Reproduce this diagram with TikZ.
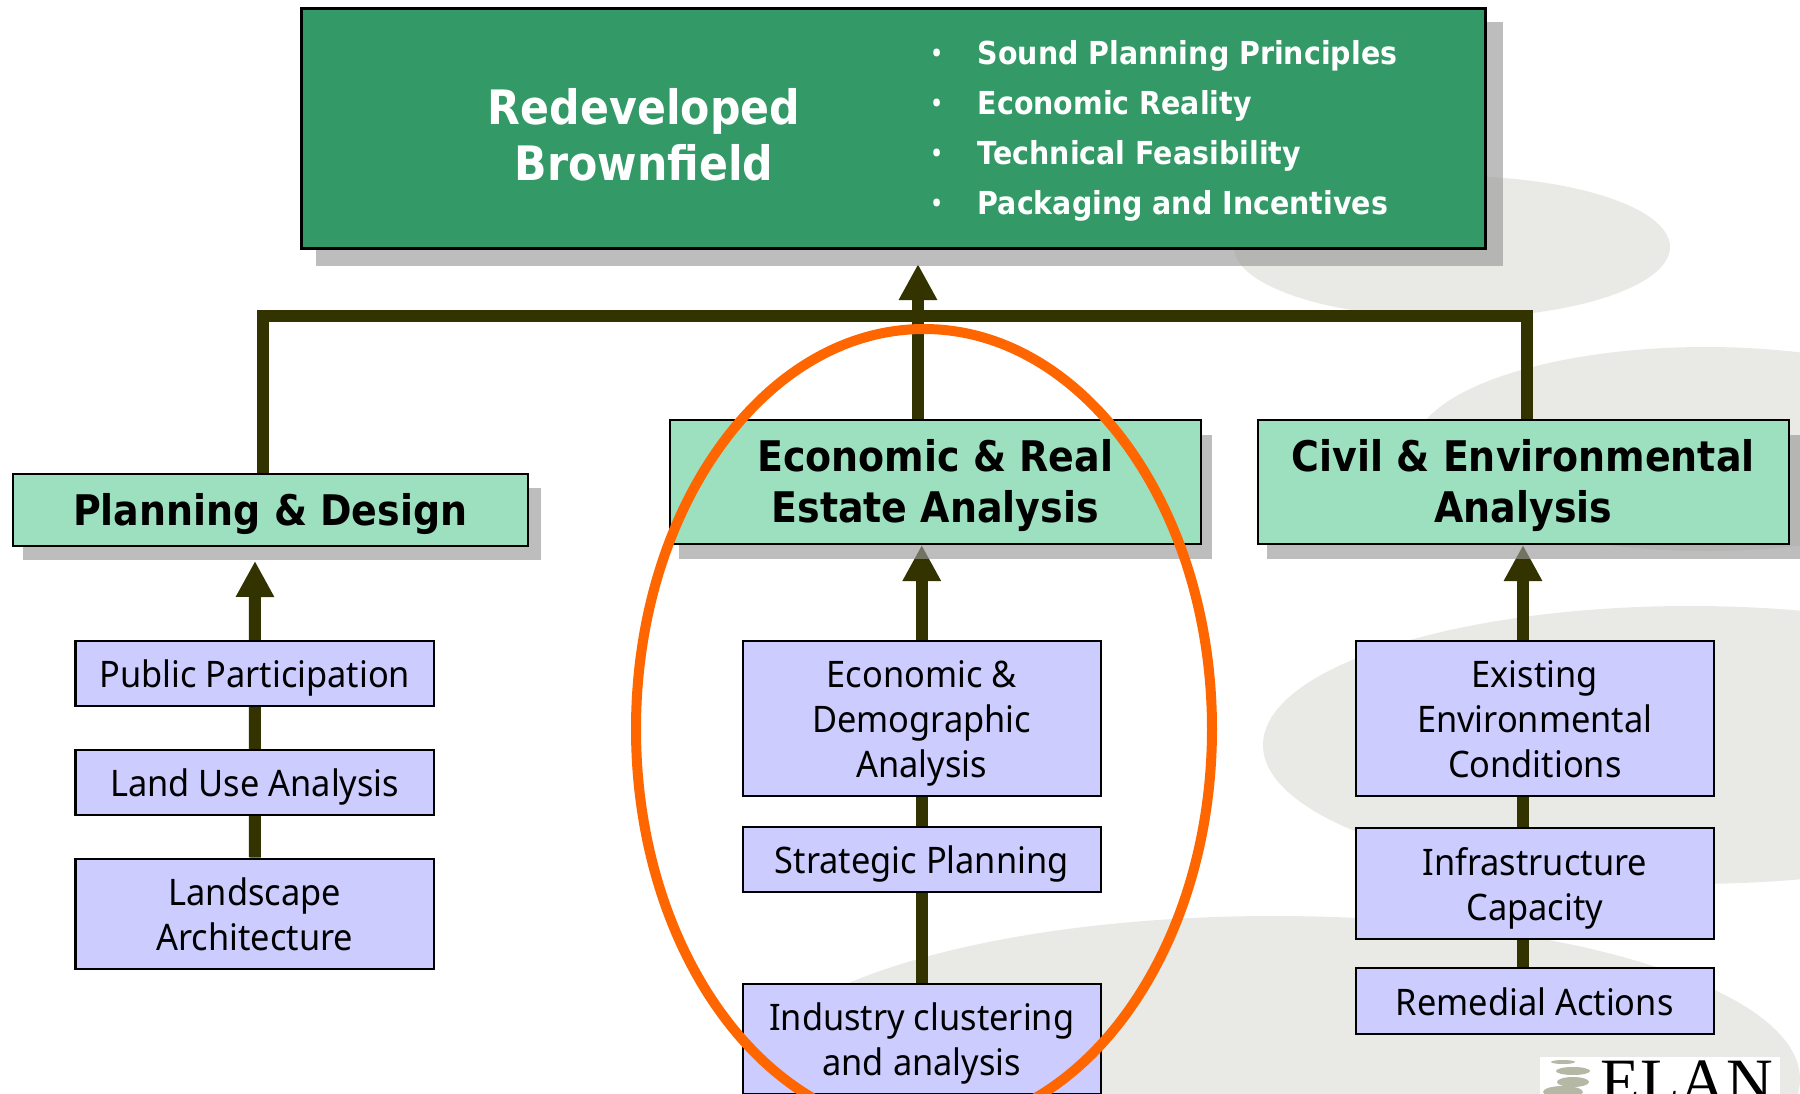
\documentclass[tikz,border=0pt]{standalone}
\usepackage{fontspec}
\usetikzlibrary{arrows.meta,backgrounds}
\setmainfont{Noto Sans}[FakeStretch=0.94]
\newfontfamily\heavyfont{DejaVu Sans Bold}[FakeStretch=0.90]
\newfontfamily\logofont{Liberation Serif}
\definecolor{topgreen}{HTML}{339966}
\definecolor{headgreen}{HTML}{9CE0BF}
\definecolor{subblue}{HTML}{CCCCFF}
\definecolor{stemolive}{HTML}{333300}
\definecolor{blobgrey}{HTML}{E9EAE5}
\definecolor{ringorange}{HTML}{FF6600}
\definecolor{shadowgrey}{RGB}{152,152,152}
\definecolor{stonegrey}{HTML}{B4B8A4}
\tikzset{
  blob/.style={fill=blobgrey,draw=none},
  shadowbox/.style={fill=shadowgrey,fill opacity=.64,draw=none},
  stem/.style={draw=stemolive,line width=.12cm},
  stemtip/.style={stem,-{Triangle[width=.36cm,length=.36cm]}},
  anybox/.style={draw=black,inner sep=0pt,align=center,anchor=north west,xshift=-.015cm,yshift=.015cm,text depth=0pt},
  subbox/.style={anybox,line width=.025cm,fill=subblue,minimum width=3.58cm,
    text height={(#1-1)*12.8pt+8.3pt},
    font=\fontsize{10.4}{12.8}\selectfont},
  headbox/.style={anybox,line width=.025cm,fill=headgreen,
    text height={(#1-1)*14.5pt+8.8pt},
    font=\heavyfont\fontsize{12}{14.5}\selectfont},
  topbox/.style={draw=black,line width=.03cm,fill=topgreen,inner sep=0pt,anchor=north west,xshift=-.015cm,yshift=.015cm},
  toptext/.style={text=white,inner sep=0pt,align=center,
    font=\heavyfont\fontsize{13.5}{16}\selectfont},
  bullettext/.style={text=white,inner sep=0pt,anchor=west,
    font=\heavyfont\fontsize{9}{11}\selectfont},
  bulletdot/.style={text=white,inner sep=0pt,anchor=west,
    font=\fontsize{9}{11}\selectfont},
}
\begin{document}
\begin{tikzpicture}
  \useasboundingbox (0,0) rectangle (18,-10.94);
  % top of the hierarchy
  \node[topbox,minimum width=11.84cm,minimum height=2.4cm] (brownfield) at (3.01,-.08) {};
  \node[toptext] (title) at (6.44,-1.35) {Redeveloped\\Brownfield};
  \foreach \i/\y/\txt in {1/.563/Sound Planning Principles,2/1.063/Economic Reality,
      3/1.563/Technical Feasibility,4/2.063/Packaging and Incentives} {
    \node[bulletdot] (dot\i) at (9.31,-\y) {•};
    \node[bullettext] (point\i) at (9.77,-\y) {\txt};
  }
  % the three disciplines
  \node[headbox=1,minimum width=5.15cm,minimum height=.72cm] (planning) at (.13,-4.74) {Planning \& Design};
  \node[headbox=2,minimum width=5.31cm,minimum height=1.24cm] (economic) at (6.70,-4.2) {Economic \& Real\\Estate Analysis};
  \node[headbox=2,minimum width=5.31cm,minimum height=1.24cm] (civil) at (12.58,-4.2) {Civil \& Environmental\\Analysis};
  % left column
  \node[subbox=1,minimum height=.65cm] (public) at (.76,-6.41) {Public Participation};
  \node[subbox=1,minimum height=.65cm] (landuse) at (.76,-7.5) {Land Use Analysis};
  \node[subbox=2,minimum height=1.1cm] (landscape) at (.76,-8.59) {Landscape\\Architecture};
  % middle column
  \node[subbox=3,minimum height=1.55cm] (demographic) at (7.43,-6.41) {Economic \&\\Demographic\\Analysis};
  \node[subbox=1,minimum height=.65cm] (strategic) at (7.43,-8.27) {Strategic Planning};
  \node[subbox=2,minimum height=1.1cm] (clustering) at (7.43,-9.84) {Industry clustering\\and analysis};
  % right column
  \node[subbox=3,minimum height=1.55cm] (existing) at (13.56,-6.41) {Existing\\Environmental\\Conditions};
  \node[subbox=2,minimum height=1.11cm] (capacity) at (13.56,-8.28) {Infrastructure\\Capacity};
  \node[subbox=1,minimum height=.66cm] (remedial) at (13.56,-9.68) {Remedial Actions};
  % logo in the corner
  \node[fill=white,inner sep=0pt,minimum width=2.4cm,minimum height=.5cm,anchor=north west] (logo) at (15.39,-10.56) {};
  \fill[stonegrey] (15.63,-10.62) ellipse (.12 and .02);
  \fill[stonegrey] (15.73,-10.71) ellipse (.17 and .04);
  \fill[stonegrey] (15.73,-10.82) ellipse (.16 and .05);
  \fill[stonegrey] (15.63,-10.92) ellipse (.2 and .06);
  \node[inner sep=0pt,anchor=base west,font=\logofont\fontsize{18.4}{20}\selectfont] (elan) at (16,-11.03) {ELAN};
  % ring round the middle column
  \draw[ringorange,line width=.1cm] (9.24,-7.29) ellipse (2.88 and 4);
  \coordinate (busleft) at (2.63,-3.16);
  \coordinate (busright) at (15.27,-3.16);
  \coordinate (bustip) at (9.18,-2.64);
  \coordinate (plantip) at (2.55,-5.61);
  \coordinate (civilaxis) at (15.23,-6);
  \begin{scope}[on background layer]
    \fill[blob] (14.52,-2.47) ellipse (2.18 and .71);
    \fill[blob] (17.06,-4.49) ellipse (2.92 and 1.02);
    \fill[blob] (16.9,-7.45) ellipse (4.27 and 1.39);
    \fill[blob] (12.74,-10.79) ellipse (5.26 and 1.63);
    \draw[stemtip] (landscape.north) -- (plantip);
    \draw[stemtip] (clustering.north) -- (clustering.north |- economic.south);
    \draw[stemtip] (remedial.north -| civilaxis) -- (civil.south -| civilaxis);
    \draw[stem] (planning.north -| busleft) -- (busleft) -- (busright) -- (civil.north -| busright);
    \draw[stemtip] (economic.north -| bustip) -- (bustip);
    \fill[shadowbox] (3.16,-.22) rectangle (15.03,-2.66);
    \fill[shadowbox] (.23,-4.88) rectangle (5.41,-5.6);
    \fill[shadowbox] (6.79,-4.35) rectangle (12.12,-5.59);
    \fill[shadowbox] (12.67,-4.35) rectangle (18,-5.59);
  \end{scope}
\end{tikzpicture}
\end{document}
